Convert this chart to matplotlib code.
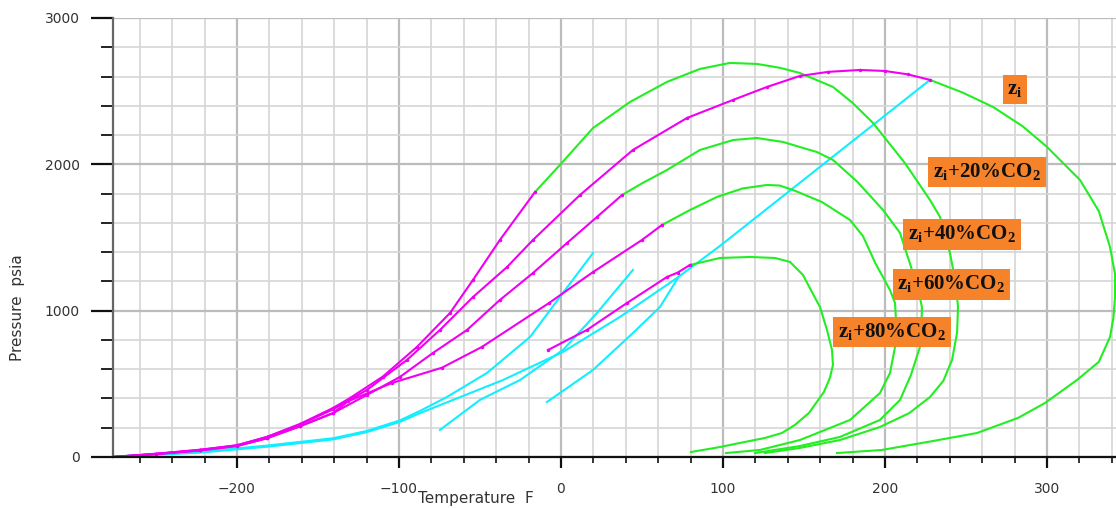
import matplotlib
matplotlib.use("Agg")
import matplotlib.pyplot as plt
from matplotlib.ticker import MultipleLocator

# bubble point branches (magenta), T in F, P in psia
zi_bub_T = [-276.5, -250, -222.8, -200, -181.5, -161.1, -140.7, -119.8, -95.1, -74.7, -54.3, -33.3, -17.3,
            11.7, 44.4, 77.8, 106.2, 127.2, 147.5, 165.0, 184.6, 200.0, 214.0, 227.8]
zi_bub_P = [0, 22, 50, 80, 137, 222, 325, 458, 663, 868, 1093, 1298, 1483,
            1790, 2098, 2317, 2440, 2529, 2604, 2632, 2645, 2638, 2615, 2577]

co2_20_bub_T = [-276.5, -250, -222.8, -200, -181.5, -161.1, -140.7, -130.2, -109.9, -88.9, -68.5, -54.3, -37.7, -16.0]
co2_20_bub_P = [0, 22, 48, 80, 137, 226, 335, 403, 550, 752, 984, 1210, 1483, 1811]

co2_40_bub_T = [-276.5, -250, -222.8, -200, -181.5, -161.1, -140.7, -119.8, -99.4, -79.0, -58.0, -37.7, -17.3,
                3.7, 22.2, 37.7]
co2_40_bub_P = [0, 20, 45, 75, 128, 210, 300, 424, 547, 711, 868, 1073, 1257, 1462, 1640, 1790]

co2_60_bub_T = [-276.5, -250, -222.8, -200, -181.5, -161.1, -140.7, -131.5, -104.3, -73.5, -48.8, -7.4, 19.8,
                50.0, 62.3]
co2_60_bub_P = [0, 20, 45, 75, 128, 210, 300, 380, 506, 610, 752, 1052, 1264, 1483, 1585]

co2_80_bub_T = [-8.0, 16.0, 40.7, 65.4, 72.0, 79.6]
co2_80_bub_P = [731, 868, 1052, 1230, 1260, 1312]

# dew point branches (green)
zi_dew_T = [227.8, 248.0, 266.7, 285.0, 300.0, 320.4, 332.0, 338.9, 342.0, 342.0, 341.0, 338.9, 332.0,
            318.5, 298.8, 282.1, 256.8, 230.0, 198.0, 170.4]
zi_dew_P = [2577, 2490, 2392, 2260, 2119, 1893, 1680, 1435, 1250, 1093, 950, 820, 650,
            526, 369, 267, 164, 110, 48, 27]

co2_20_dew_T = [-16.0, -0.6, 19.8, 42.6, 65.4, 85.8, 104.3, 121.0, 135.0, 147.5, 167.9, 180.0, 192.6, 212.3,
                227.8, 234.0, 240.1, 243.5, 245.1, 244.5, 241.4, 236.0, 227.8, 215.0, 196.9, 172.2, 147.5, 125.9]
co2_20_dew_P = [1811, 1996, 2248, 2426, 2563, 2652, 2693, 2686, 2660, 2624, 2529, 2420, 2283, 2009,
                1756, 1640, 1394, 1200, 1025, 850, 663, 520, 410, 300, 205, 116, 62, 27]

co2_40_dew_T = [37.7, 50.0, 65.4, 85.8, 106.2, 121.0, 137.0, 158.0, 167.9, 183.0, 198.8, 209.3, 217.3,
                221.0, 222.8, 222.5, 221.6, 216.0, 209.3, 196.9, 172.2, 147.5, 119.8]
co2_40_dew_P = [1790, 1870, 1961, 2098, 2166, 2180, 2153, 2084, 2030, 1880, 1688, 1531, 1257,
                1120, 1025, 880, 752, 560, 390, 253, 137, 75, 27]

co2_60_dew_T = [62.3, 80.0, 96.3, 112.0, 127.2, 135.0, 143.2, 161.0, 178.4, 186.4, 194.0, 203.1, 206.2, 207.4,
                203.1, 196.9, 178.4, 147.5, 122.8, 101.9]
co2_60_dew_P = [1585, 1690, 1777, 1835, 1859, 1855, 1825, 1743, 1620, 1510, 1326, 1141, 1052, 820,
                574, 437, 253, 116, 48, 27]

co2_80_dew_T = [79.6, 98.1, 116.7, 132.1, 141.4, 149.4, 154.9, 159.9, 164.2, 167.3, 167.9, 166.0, 162.3,
                153.1, 144.4, 136.4, 125.9, 113.6, 98.1, 80.2]
co2_80_dew_P = [1312, 1360, 1367, 1360, 1333, 1244, 1128, 1025, 868, 731, 629, 540, 444,
                301, 219, 164, 130, 103, 68, 34]

# cyan lines
cyan_a_T = [19.8, 1.2, -19.1, -45.7, -70.4, -87.0, -99.4, -119.8, -140.7, -181.5, -222.8, -276.5]
cyan_a_P = [1394, 1121, 820, 574, 410, 315, 250, 178, 128, 78, 35, 3]

cyan_b_T = [44.4, 22.2, 1.2, -25.3, -50.0, -74.7]
cyan_b_P = [1278, 984, 731, 526, 390, 185]

cyan_c_T = [227.8, 98.1, 71.6, 36.4, 1.2, -35.8, -87.0, -99.4, -119.8, -140.7, -181.5, -222.8, -276.5]
cyan_c_P = [2577, 1442, 1223, 957, 718, 526, 300, 240, 170, 120, 70, 30, 0]

cyan_d_T = [72.2, 61.1, 44.4, 19.8, -8.6]
cyan_d_P = [1223, 1025, 847, 595, 376]

label_text = [r"z$_\mathregular{i}$",
              r"z$_\mathregular{i}$+20%CO$_\mathregular{2}$",
              r"z$_\mathregular{i}$+40%CO$_\mathregular{2}$",
              r"z$_\mathregular{i}$+60%CO$_\mathregular{2}$",
              r"z$_\mathregular{i}$+80%CO$_\mathregular{2}$"]
label_T = [280.2, 263.0, 247.5, 241.0, 204.3]
label_P = [2510, 1948, 1521, 1179, 854]

GREEN = "#22EE22"
MAGENTA = "#F000F0"
CYAN = "#11EEFF"

fig = plt.figure(figsize=(11.16, 5.08), dpi=100)
ax = fig.add_axes([113 / 1116, 1 - 457 / 508, 1003 / 1116, 439 / 508])

for T, P in [(cyan_a_T, cyan_a_P), (cyan_b_T, cyan_b_P), (cyan_c_T, cyan_c_P), (cyan_d_T, cyan_d_P)]:
    ax.plot(T, P, color=CYAN, lw=1.5)
for T, P in [(zi_dew_T, zi_dew_P), (co2_20_dew_T, co2_20_dew_P), (co2_40_dew_T, co2_40_dew_P),
             (co2_60_dew_T, co2_60_dew_P), (co2_80_dew_T, co2_80_dew_P)]:
    ax.plot(T, P, color=GREEN, lw=1.5)
for T, P in [(zi_bub_T, zi_bub_P), (co2_20_bub_T, co2_20_bub_P), (co2_40_bub_T, co2_40_bub_P),
             (co2_60_bub_T, co2_60_bub_P), (co2_80_bub_T, co2_80_bub_P)]:
    ax.plot(T, P, color=MAGENTA, lw=1.5, marker=".", markersize=3)

ax.set_xlim(-276.5, 342.6)
ax.set_ylim(0, 3000)
ax.xaxis.set_major_locator(MultipleLocator(100))
ax.xaxis.set_minor_locator(MultipleLocator(20))
ax.yaxis.set_major_locator(MultipleLocator(1000))
ax.yaxis.set_minor_locator(MultipleLocator(200))
ax.grid(which="minor", color="#d6d6d6", lw=1.2)
ax.grid(which="major", color="#bcbcbc", lw=1.6)
ax.set_axisbelow(True)

for s in ["top", "right"]:
    ax.spines[s].set_visible(False)
ax.spines["left"].set_color("#666666")
ax.spines["left"].set_linewidth(1.6)
ax.spines["bottom"].set_color("#111111")
ax.spines["bottom"].set_linewidth(1.6)

ax.tick_params(axis="y", which="major", length=16, width=1.6, color="#111111", pad=8,
               labelsize=10, labelcolor="#333333")
ax.tick_params(axis="y", which="minor", length=8.5, width=1.3, color="#111111")
ax.tick_params(axis="x", which="major", length=8, width=1.6, color="#111111", pad=10,
               labelsize=10, labelcolor="#333333")
ax.tick_params(axis="x", which="minor", length=4.5, width=1.2, color="#111111")

fig.text(476 / 1116, 1 - 498 / 508, "Temperature  F", ha="center", va="center",
         fontsize=11, color="#333333")
fig.text(18 / 1116, 1 - 308 / 508, "Pressure  psia", ha="center", va="center",
         rotation=90, fontsize=11, color="#333333")

for txt, t, p in zip(label_text, label_T, label_P):
    ax.text(t, p, txt, ha="center", va="center", fontsize=15, fontweight="bold",
            family="Liberation Serif", color="#111111",
            bbox=dict(boxstyle="square,pad=0.22", facecolor="#F6832A", edgecolor="none"))

fig.savefig("out.png", dpi=100)
